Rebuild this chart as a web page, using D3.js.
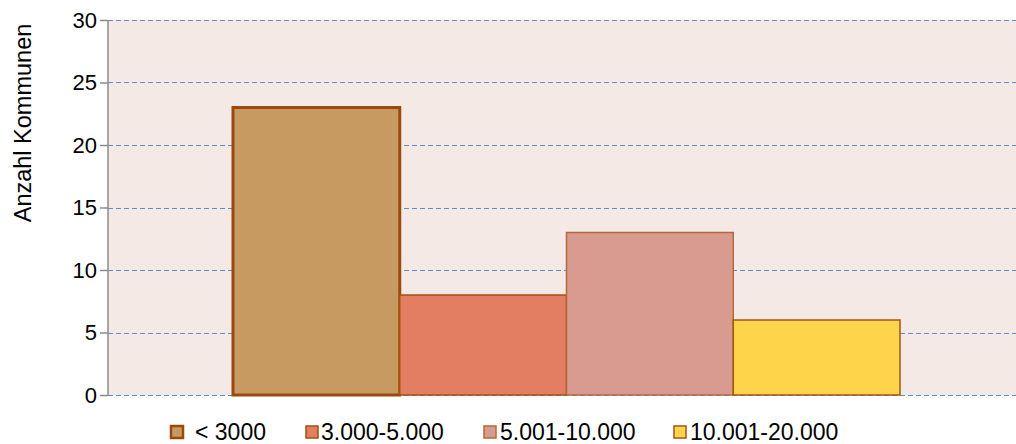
<!DOCTYPE html>
<html>
<head>
<meta charset="utf-8">
<script src="https://cdn.jsdelivr.net/npm/d3@7"></script>
<style>
  body { margin: 0; background: #fff; }
  text { font-family: "Liberation Sans", Arial, sans-serif; fill: #000; }
</style>
</head>
<body>
<div id="area"></div>
<script>
var series = ["< 3000", "3.000-5.000", "5.001-10.000", "10.001-20.000"];
var values = [23, 8, 13, 6];
var yTicks = [0, 5, 10, 15, 20, 25, 30];
var fills = ["#c79a61", "#e37e63", "#d99b90", "#fed44b"];
var strokes = ["#9a4a0c", "#a5520f", "#b36a3a", "#a5560f"];

var margin = {top: 20, right: 0, bottom: 49, left: 108},
    width = 1016 - margin.left - margin.right,
    height = 444 - margin.top - margin.bottom;

var svg = d3.select('#area').append('svg')
            .attr('width', 1016)
            .attr('height', 444);

var g = svg.append('g')
           .attr('transform', 'translate(' + margin.left + ',' + margin.top + ')');

var y = d3.scaleLinear()
          .domain([0, 30])
          .range([height, 0]);

// bars occupy the middle of the plot
var x1 = d3.scaleBand()
           .domain(series)
           .range([125, 792])
           .padding(0);

g.append('rect')
 .attr('width', width)
 .attr('height', height)
 .attr('fill', '#f5e9e5');

g.selectAll('.grid')
 .data(yTicks)
 .enter().append('line')
 .attr('x1', 0)
 .attr('x2', width)
 .attr('y1', function(d) { return Math.round(y(d)) + 0.5; })
 .attr('y2', function(d) { return Math.round(y(d)) + 0.5; })
 .attr('stroke', '#5f8ac6')
 .attr('stroke-width', 1.2)
 .attr('stroke-dasharray', '5,3');

g.selectAll('.bar')
 .data(values)
 .enter().append('rect')
 .attr('x', function(d, i) { return x1(series[i]); })
 .attr('y', function(d) { return y(d); })
 .attr('width', x1.bandwidth())
 .attr('height', function(d) { return height - y(d); })
 .attr('fill', function(d, i) { return fills[i]; })
 .attr('stroke', function(d, i) { return strokes[i]; })
 .attr('stroke-width', function(d, i) { return i === 0 ? 3 : 1.5; });

var yAxis = d3.axisLeft(y)
              .tickValues(yTicks)
              .tickSize(8)
              .tickPadding(3);

var ya = g.append('g').call(yAxis);
ya.select('.domain').attr('stroke', '#8c8c8c').attr('stroke-width', 1.5).attr('d', 'M0,0V' + height);
ya.selectAll('.tick line').attr('stroke', '#8c8c8c').attr('stroke-width', 1.5);
ya.selectAll('.tick text').style('font-size', '22px').attr('fill', '#000');

svg.append('text')
   .attr('transform', 'translate(31,123) rotate(-90)')
   .attr('text-anchor', 'middle')
   .style('font-size', '23.5px')
   .text('Anzahl Kommunen');

var legendX = [171, 306, 484, 674];
var textX = [24, 15, 16, 16];
var legend = svg.selectAll('.legend')
                .data(series)
                .enter().append('g')
                .attr('transform', function(d, i) { return 'translate(' + legendX[i] + ',426)'; });

legend.append('rect')
      .attr('width', 12)
      .attr('height', 12)
      .attr('fill', function(d, i) { return fills[i]; })
      .attr('stroke', function(d, i) { return strokes[i]; })
      .attr('stroke-width', function(d, i) { return i === 0 ? 2.5 : 1.5; });

legend.append('text')
      .attr('x', function(d, i) { return textX[i]; })
      .attr('y', 13.5)
      .style('font-size', '23px')
      .text(function(d) { return d; });
</script>
</body>
</html>
